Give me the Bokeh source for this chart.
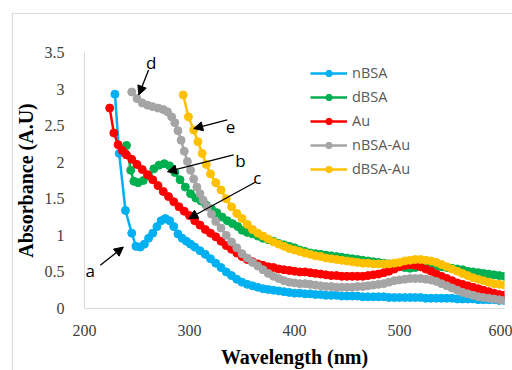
from bokeh.plotting import figure
from bokeh.models import Range1d, Arrow, NormalHead, Label, Legend, LegendItem, FixedTicker
from bokeh.embed import file_html
from bokeh.resources import INLINE

tail = list(range(405, 601, 5))

nbsa_x = [229, 233, 239, 245, 249, 253, 257, 261, 265, 269, 273, 277, 281, 285, 289, 293, 297, 301, 305,
          310, 315, 320, 325, 330, 335, 340, 345, 350, 355, 360, 365, 370, 375, 380, 385, 390, 395, 400] + tail
nbsa_y = [2.93, 2.12, 1.34, 1.03, 0.85, 0.84, 0.88, 0.96, 1.03, 1.12, 1.20, 1.23, 1.20, 1.12, 1.02, 0.96, 0.92, 0.88, 0.84,
          0.79, 0.74, 0.68, 0.62, 0.56, 0.50, 0.45, 0.40, 0.36, 0.33, 0.31, 0.29, 0.27, 0.26, 0.25, 0.24, 0.23, 0.22, 0.21,
          0.21, 0.20, 0.20, 0.19, 0.19, 0.18, 0.18, 0.18, 0.17, 0.17, 0.17, 0.17, 0.16, 0.16, 0.16, 0.16, 0.16, 0.15,
          0.15, 0.15, 0.15, 0.15, 0.15, 0.15, 0.14, 0.14, 0.14, 0.14, 0.14, 0.14, 0.13, 0.13, 0.13, 0.13, 0.12, 0.12,
          0.12, 0.12, 0.11, 0.11]

dbsa_x = [240, 244, 247, 251, 256, 261, 266, 271, 276, 281, 286, 291, 296, 301, 306, 311, 316, 321, 326, 331,
          336, 341, 346, 350, 355, 360, 365, 370, 375, 380, 385, 390, 395, 400] + tail
dbsa_y = [2.23, 1.89, 1.74, 1.72, 1.75, 1.82, 1.91, 1.96, 1.98, 1.95, 1.86, 1.76, 1.66, 1.57, 1.51, 1.47, 1.41, 1.36,
          1.31, 1.25, 1.20, 1.16, 1.12, 1.07, 1.04, 1.02, 0.99, 0.96, 0.94, 0.92, 0.89, 0.87, 0.85, 0.83,
          0.80, 0.78, 0.76, 0.75, 0.74, 0.73, 0.72, 0.71, 0.70, 0.69, 0.68, 0.67, 0.66, 0.65, 0.64, 0.63, 0.62,
          0.61, 0.60, 0.58, 0.56, 0.55, 0.56, 0.58, 0.59, 0.59, 0.58, 0.57, 0.56, 0.55, 0.54, 0.53, 0.51, 0.50,
          0.49, 0.48, 0.47, 0.46, 0.45, 0.44]

au_x = [224, 228, 232, 236, 240, 245, 250, 255, 260, 265, 270, 275, 280, 285, 290, 295, 300, 305, 310, 315,
        320, 325, 330, 335, 340, 345, 350, 355, 360, 365, 370, 375, 380, 385, 390, 395, 400] + tail
au_y = [2.74, 2.40, 2.24, 2.16, 2.10, 2.04, 1.97, 1.90, 1.83, 1.76, 1.68, 1.60, 1.53, 1.46, 1.39, 1.33, 1.27, 1.20,
        1.14, 1.08, 1.03, 0.98, 0.92, 0.86, 0.81, 0.76, 0.71, 0.67, 0.64, 0.61, 0.59, 0.57, 0.56, 0.54, 0.53, 0.52,
        0.51, 0.50, 0.50, 0.49, 0.48, 0.47, 0.46, 0.45, 0.45, 0.44, 0.44, 0.44, 0.44, 0.44, 0.45, 0.46, 0.47, 0.49,
        0.51, 0.54, 0.57, 0.59, 0.60, 0.59, 0.57, 0.54, 0.51, 0.47, 0.44, 0.41, 0.38, 0.35, 0.33, 0.31, 0.29, 0.27,
        0.25, 0.23, 0.21, 0.19, 0.18]

nbsa_au_x = [245, 250, 255, 260, 265, 270, 275, 279, 283, 286, 289, 292, 295, 298, 301, 304, 307, 310, 313, 317,
             321, 325, 330, 335, 340, 345, 350, 355, 360, 365, 370, 375, 380, 385, 390, 395, 400] + tail
nbsa_au_y = [2.96, 2.87, 2.81, 2.78, 2.76, 2.74, 2.72, 2.69, 2.62, 2.54, 2.43, 2.30, 2.15, 2.01, 1.89, 1.77, 1.66,
             1.57, 1.48, 1.39, 1.29, 1.19, 1.10, 1.00, 0.91, 0.83, 0.75, 0.69, 0.63, 0.58, 0.53, 0.48, 0.44, 0.41,
             0.38, 0.36, 0.35, 0.34, 0.34, 0.33, 0.32, 0.31, 0.30, 0.30, 0.29, 0.29, 0.29, 0.29, 0.30, 0.30, 0.31,
             0.32, 0.33, 0.34, 0.36, 0.38, 0.39, 0.40, 0.41, 0.41, 0.41, 0.40, 0.39, 0.37, 0.34, 0.31, 0.28, 0.25,
             0.22, 0.20, 0.18, 0.16, 0.15, 0.14, 0.13, 0.12, 0.11]

dbsa_au_x = [294, 299, 304, 308, 312, 316, 320, 325, 330, 335, 340, 345, 350, 355, 360, 365, 370, 375, 380, 385,
             390, 395, 400] + tail
dbsa_au_y = [2.92, 2.62, 2.44, 2.28, 2.12, 1.97, 1.84, 1.72, 1.62, 1.50, 1.39, 1.30, 1.23, 1.15, 1.08, 1.03, 0.99,
             0.95, 0.91, 0.88, 0.85, 0.82, 0.80, 0.78, 0.76, 0.74, 0.72, 0.71, 0.69, 0.68, 0.67, 0.66, 0.65, 0.64,
             0.63, 0.62, 0.62, 0.61, 0.61, 0.61, 0.61, 0.62, 0.63, 0.65, 0.66, 0.67, 0.67, 0.66, 0.65, 0.63, 0.60,
             0.57, 0.54, 0.51, 0.48, 0.45, 0.42, 0.40, 0.38, 0.36, 0.34, 0.33, 0.32]

series_names = ["nBSA", "dBSA", "Au", "nBSA-Au", "dBSA-Au"]
series_x = [nbsa_x, dbsa_x, au_x, nbsa_au_x, dbsa_au_x]
series_y = [nbsa_y, dbsa_y, au_y, nbsa_au_y, dbsa_au_y]
series_colors = ["#00B0F0", "#00B050", "#FF0000", "#A5A5A5", "#FFC000"]

x_ticks = [200, 300, 400, 500, 600]
y_ticks = [0, 0.5, 1, 1.5, 2, 2.5, 3, 3.5]
y_tick_labels = ["0", "0.5", "1", "1.5", "2", "2.5", "3", "3.5"]

annot_labels = ["a", "d", "e", "b", "c"]
annot_text_x = [205.5, 263.5, 339.0, 348.5, 364.5]
annot_text_y = [0.52, 3.37, 2.48, 2.03, 1.79]
annot_from_x = [215.0, 261.0, 336.0, 342.0, 363.0]
annot_from_y = [0.59, 3.26, 2.58, 2.10, 1.73]
annot_to_x = [237.0, 251.7, 304.0, 279.0, 299.3]
annot_to_y = [0.84, 2.92, 2.46, 1.87, 1.23]

p = figure(width=512, height=370, output_backend="svg", toolbar_location=None,
           x_range=Range1d(200, 600), y_range=Range1d(0, 3.5),
           min_border_left=84, min_border_right=8, min_border_top=52, min_border_bottom=62)
p.outline_line_color = None
p.xgrid.grid_line_color = None
p.ygrid.grid_line_color = None
p.border_fill_alpha = 0
p.styles = {"background": "linear-gradient(#d9d9d9, #d9d9d9) 12px 13px / 1px 100% no-repeat, "
                          "linear-gradient(#d9d9d9, #d9d9d9) 12px 13px / 100% 1px no-repeat, white"}

items = []
for name, xs, ys, col in zip(series_names, series_x, series_y, series_colors):
    r1 = p.line(xs, ys, line_color=col, line_width=2.5)
    r2 = p.scatter(xs, ys, size=8, fill_color=col, line_color=col)
    items.append(LegendItem(label=name, renderers=[r1, r2]))

legend = Legend(items=items, location=(226, 130), orientation="vertical",
                background_fill_alpha=0, border_line_color=None, padding=0, margin=0,
                glyph_width=37, glyph_height=16, label_height=16, spacing=5, label_standoff=5,
                label_text_font="Open Sans", label_text_font_size="14.5px", label_text_color="#595959")
p.add_layout(legend, "center")

for ax in (p.xaxis[0], p.yaxis[0]):
    ax.axis_line_color = "#D9D9D9"
    ax.axis_line_width = 1
    ax.major_tick_line_color = None
    ax.minor_tick_line_color = None
    ax.major_label_text_font = "Liberation Serif"
    ax.major_label_text_font_size = "16px"
    ax.major_label_text_color = "#404040"
    ax.axis_label_text_font = "Liberation Serif"
    ax.axis_label_text_font_style = "bold"
    ax.axis_label_text_font_size = "20px"
    ax.axis_label_text_color = "black"

p.xaxis.ticker = FixedTicker(ticks=x_ticks)
p.yaxis.ticker = FixedTicker(ticks=y_ticks)
p.yaxis.major_label_overrides = {t: l for t, l in zip(y_ticks, y_tick_labels)}
p.xaxis.axis_label = "Wavelength (nm)"
p.yaxis.axis_label = "Absorbance (A.U)"
p.xaxis.major_label_standoff = 10
p.yaxis.major_label_standoff = 14
p.xaxis.axis_label_standoff = 7
p.yaxis.axis_label_standoff = 5

for lab, tx, ty, fx, fy, ex, ey in zip(annot_labels, annot_text_x, annot_text_y, annot_from_x, annot_from_y,
                                      annot_to_x, annot_to_y):
    p.add_layout(Arrow(end=NormalHead(size=9, fill_color="black", line_color="black"),
                       x_start=fx, y_start=fy, x_end=ex, y_end=ey, line_color="black", line_width=1.3))
    p.add_layout(Label(x=tx, y=ty, text=lab, text_font="Open Sans", text_font_size="17px",
                       text_color="black", text_align="center", text_baseline="middle"))

open("out.html", "w").write(file_html(p, INLINE))
